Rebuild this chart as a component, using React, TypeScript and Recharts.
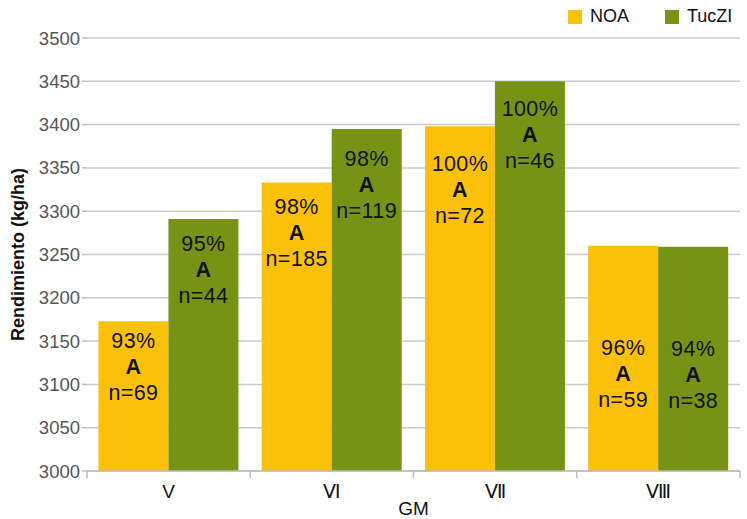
import React from 'react'
import {
  BarChart,
  Bar,
  XAxis,
  YAxis,
  CartesianGrid,
  LabelList,
} from 'recharts'

const GM = ['V', 'Ⅵ', 'Ⅶ', 'Ⅷ']
const NOA = [3173, 3333, 3398, 3260]
const TUCZI = [3291, 3395, 3450, 3259]
const NOA_PCT = ['93%', '98%', '100%', '96%']
const TUCZI_PCT = ['95%', '98%', '100%', '94%']
const NOA_GROUP = ['A', 'A', 'A', 'A']
const TUCZI_GROUP = ['A', 'A', 'A', 'A']
const NOA_N = [69, 185, 72, 59]
const TUCZI_N = [44, 119, 46, 38]
const Y_TICKS = [3000, 3050, 3100, 3150, 3200, 3250, 3300, 3350, 3400, 3450, 3500]

// how far below the bar top the first label line sits (px)
const NOA_DROP = [20, 24, 38, 102]
const TUCZI_DROP = [25, 30, 28, 102]

const YELLOW = '#fbc00a'
const GREEN = '#779316'
const AXIS_GREY = '#bbbbbb'
const FONT = '"Liberation Sans", Arial, Helvetica, sans-serif'
const TICK_MARGIN = 20

const data = GM.map((gm, i) => ({
  gm,
  noa: NOA[i],
  tuczi: TUCZI[i],
}))

const makeLabel = (pct: string[], grp: string[], n: number[], drop: number[]) =>
  (props: any) => {
    const { x, y, width, index } = props
    const cx = x + width / 2
    const y0 = y + drop[index]
    return (
      <g fontFamily={FONT} fontSize={21.5} fill="#111" textAnchor="middle" letterSpacing={0.4}>
        <text x={cx} y={y0} dominantBaseline="central">{pct[index]}</text>
        <text x={cx} y={y0 + 26} dominantBaseline="central" fontWeight="bold">{grp[index]}</text>
        <text x={cx} y={y0 + 52} dominantBaseline="central">n={n[index]}</text>
      </g>
    )
  }

// category label plus tick marks on the category boundaries
const GmTick = (props: any) => {
  const { x, y, payload, index } = props
  const half = payload.offset || 0
  const axisY = y - TICK_MARGIN
  return (
    <g>
      <line x1={x - half} x2={x - half} y1={axisY} y2={axisY + 7} stroke={AXIS_GREY} strokeWidth={1.5} />
      {index === GM.length - 1 && (
        <line x1={x + half} x2={x + half} y1={axisY} y2={axisY + 7} stroke={AXIS_GREY} strokeWidth={1.5} />
      )}
      <text x={x} y={y} textAnchor="middle" dominantBaseline="central" fill="#111" fontSize={19} fontFamily={FONT}>
        {payload.value}
      </text>
    </g>
  )
}

const legendItems = [
  { name: 'NOA', color: YELLOW },
  { name: 'TucZI', color: GREEN },
]

export default function App() {
  return (
    <div style={{ position: 'absolute', left: 0, top: 0, width: 747, height: 519, background: '#fff' }}>
      <div
        style={{
          position: 'absolute',
          top: 6,
          left: 568,
          display: 'flex',
          gap: 36,
          fontFamily: FONT,
          fontSize: 18,
          color: '#111',
          zIndex: 2,
        }}
      >
        {legendItems.map((it) => (
          <div key={it.name} style={{ display: 'flex', alignItems: 'center', gap: 8 }}>
            <span style={{ width: 14, height: 14, background: it.color, display: 'inline-block' }} />
            <span>{it.name}</span>
          </div>
        ))}
      </div>
      <BarChart
        width={747}
        height={519}
        data={data}
        margin={{ top: 38, right: 7, bottom: 0, left: 0 }}
        barCategoryGap="7%"
        barGap={0}
      >
        <CartesianGrid vertical={false} stroke="#cccccc" strokeWidth={1.5} />
        <XAxis
          dataKey="gm"
          height={48}
          axisLine={{ stroke: AXIS_GREY, strokeWidth: 1.5 }}
          tickLine={false}
          tickSize={0}
          tickMargin={TICK_MARGIN}
          tick={<GmTick />}
          interval={0}
          label={{
            value: 'GM',
            position: 'insideBottom',
            offset: 4,
            style: { fill: '#111', fontSize: 19, fontFamily: FONT },
          }}
        />
        <YAxis
          domain={[3000, 3500]}
          ticks={Y_TICKS}
          interval={0}
          width={87}
          axisLine={false}
          tickLine={{ stroke: AXIS_GREY, strokeWidth: 1.5 }}
          tickSize={5}
          tickMargin={2}
          tick={{ fill: '#555', fontSize: 18.5, fontFamily: FONT }}
          allowDataOverflow
          label={{
            value: 'Rendimiento (kg/ha)',
            angle: -90,
            position: 'insideLeft',
            offset: 18,
            style: { fill: '#111', fontSize: 18, fontWeight: 'bold', fontFamily: FONT, textAnchor: 'middle' },
          }}
        />
        <Bar dataKey="noa" name="NOA" fill={YELLOW} isAnimationActive={false}>
          <LabelList dataKey="noa" content={makeLabel(NOA_PCT, NOA_GROUP, NOA_N, NOA_DROP)} />
        </Bar>
        <Bar dataKey="tuczi" name="TucZI" fill={GREEN} isAnimationActive={false}>
          <LabelList dataKey="tuczi" content={makeLabel(TUCZI_PCT, TUCZI_GROUP, TUCZI_N, TUCZI_DROP)} />
        </Bar>
      </BarChart>
    </div>
  )
}
